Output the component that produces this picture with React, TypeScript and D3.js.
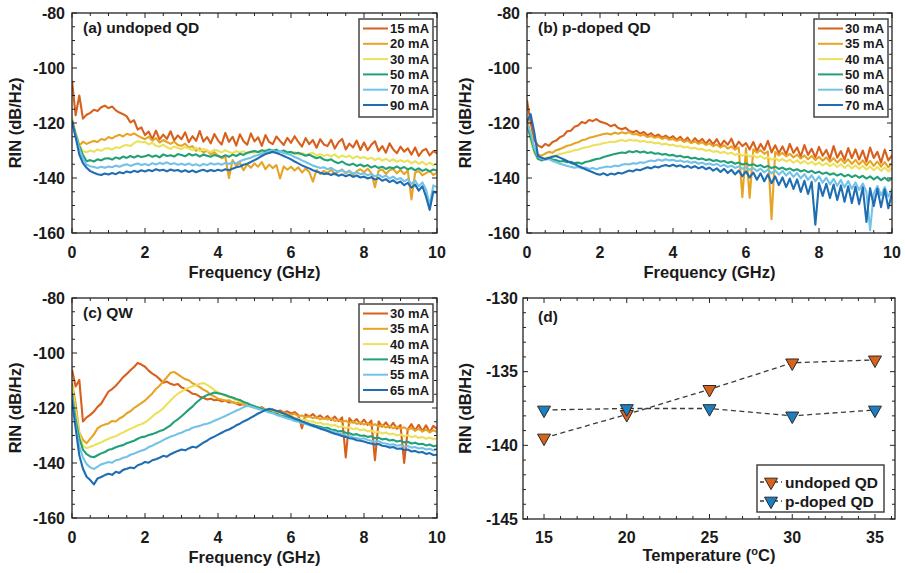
import React from 'react';
import * as d3 from 'd3';

// Frequency sampling grid (GHz) shared by all spectra
const FREQ: number[] = d3.range(0, 101).map((i) => i / 10);

// ---------- Panel (a) undoped QD ----------
const A_LABELS = ['15 mA', '20 mA', '30 mA', '50 mA', '70 mA', '90 mA'];
const A_15 = [
  -104.6, -117.2, -110.0, -118.4, -117.0, -116.3, -115.2, -115.6, -114.3, -113.7,
  -114.6, -114.0, -115.4, -116.2, -116.8, -117.6, -119.8, -119.0, -122.4, -121.6,
  -124.4, -123.1, -125.9, -122.8, -126.0, -124.2, -125.8, -123.0, -126.3, -124.5,
  -125.9, -123.4, -127.0, -124.8, -126.5, -122.9, -126.8, -125.1, -127.4, -124.0,
  -126.3, -127.8, -123.6, -126.9, -125.0, -128.2, -124.1, -126.6, -127.9, -123.8,
  -126.7, -125.2, -128.3, -124.4, -126.9, -127.7, -124.9, -126.5, -128.0, -125.4,
  -127.2, -124.8, -126.9, -128.6, -125.5, -127.7, -126.2, -129.0, -125.9, -127.8,
  -128.4, -126.1, -129.3, -127.0, -125.8, -129.6, -127.5, -128.9, -126.4, -129.8,
  -127.1, -129.9, -127.9, -126.6, -130.2, -128.4, -130.8, -127.4, -129.6, -131.0,
  -128.6, -130.4, -129.2, -131.5, -128.9, -132.0, -130.1, -129.4, -131.8, -130.2,
  -131.0,
];
const A_20 = [
  -119.8, -124.5, -128.3, -126.8, -127.6, -127.0, -126.5, -126.9, -125.8, -126.2,
  -125.1, -125.6, -124.8, -124.3, -124.9, -123.9, -124.4, -123.8, -124.6, -125.3,
  -125.9, -125.0, -126.4, -125.5, -127.1, -126.2, -126.9, -127.6, -126.8, -128.0,
  -128.3, -127.5, -129.0, -128.4, -130.1, -129.2, -130.8, -130.0, -131.4, -130.6,
  -131.9, -132.8, -132.2, -140.0, -133.5, -135.6, -134.4, -137.2, -135.0, -136.3,
  -134.7, -135.9, -134.2, -136.8, -135.1, -136.4, -135.3, -140.2, -135.8, -137.0,
  -135.9, -137.3, -136.1, -138.0, -136.6, -137.8, -141.3, -137.1, -138.5, -137.4,
  -138.2, -137.0, -138.8, -137.6, -136.9, -138.4, -137.3, -139.0, -137.6, -136.8,
  -137.9, -136.6, -138.2, -143.4, -137.4, -136.9, -138.5, -137.2, -136.7, -138.3,
  -137.0, -138.6, -137.3, -147.8, -138.1, -137.5, -139.0, -138.2, -137.4, -138.9,
  -138.0,
];
const A_30 = [
  -118.0, -123.4, -127.9, -130.2, -130.6, -130.0, -130.5, -129.6, -130.1, -129.3,
  -129.2, -129.7, -128.8, -129.1, -128.3, -128.0, -128.4, -127.3, -126.6, -127.0,
  -126.9, -127.8, -127.2, -128.3, -128.6, -127.9, -128.8, -129.4, -128.5, -129.1,
  -129.5, -128.7, -129.3, -129.8, -129.0, -130.2, -129.4, -130.0, -130.6, -129.7,
  -130.1, -130.7, -129.9, -130.5, -131.0, -130.2, -130.8, -130.3, -131.2, -130.5,
  -130.8, -130.2, -130.9, -129.8, -130.4, -129.9, -130.6, -130.1, -131.0, -130.5,
  -131.1, -130.6, -131.5, -130.9, -131.7, -131.2, -130.8, -131.9, -131.3, -132.0,
  -131.5, -132.2, -131.4, -132.6, -131.8, -132.4, -131.9, -132.9, -132.1, -132.7,
  -132.4, -133.1, -132.6, -133.5, -132.8, -133.7, -133.0, -133.9, -133.2, -134.1,
  -133.5, -134.2, -133.6, -134.7, -133.9, -134.8, -134.1, -135.2, -134.4, -135.3,
  -134.8,
];
const A_50 = [
  -119.0, -124.1, -128.4, -131.6, -133.9, -133.5, -134.0, -133.2, -133.6, -132.9,
  -132.8, -133.3, -132.5, -133.0, -132.2, -132.7, -132.0, -132.6, -131.9, -132.4,
  -132.1, -131.6, -132.3, -131.8, -132.5, -131.4, -132.0, -131.7, -132.2, -131.3,
  -131.6, -132.1, -131.2, -131.8, -131.4, -132.2, -131.5, -131.9, -132.3, -131.6,
  -132.0, -132.4, -131.7, -132.3, -131.5, -132.0, -131.2, -131.6, -130.8, -130.5,
  -130.2, -130.6, -129.9, -130.3, -129.6, -130.1, -129.7, -130.4, -130.0, -130.7,
  -130.5, -131.1, -130.8, -131.4, -131.9, -131.5, -132.2, -132.8, -132.4, -133.3,
  -133.6, -133.2, -134.1, -134.6, -134.0, -134.9, -135.3, -134.8, -135.6, -135.1,
  -135.8, -135.3, -136.2, -135.6, -136.4, -135.9, -136.7, -136.1, -136.5, -135.8,
  -136.6, -136.0, -136.9, -136.3, -137.2, -136.5, -137.4, -136.8, -137.6, -136.9,
  -137.3,
];
const A_70 = [
  -119.2, -124.6, -129.3, -133.1, -135.2, -135.7, -136.0, -136.4, -135.9, -136.3,
  -135.8, -136.1, -135.5, -135.9, -135.4, -135.0, -135.6, -135.1, -134.7, -135.3,
  -134.9, -135.4, -134.6, -135.1, -134.5, -134.9, -134.3, -135.0, -134.6, -135.2,
  -134.8, -135.3, -134.7, -135.4, -135.0, -135.6, -134.9, -135.3, -134.6, -135.1,
  -134.7, -135.2, -134.5, -134.9, -134.3, -134.7, -133.9, -133.4, -133.0, -132.6,
  -132.0, -131.6, -131.1, -130.8, -130.3, -130.0, -130.5, -130.2, -130.9, -131.3,
  -131.6, -132.4, -132.9, -133.6, -134.2, -134.8, -135.5, -135.9, -136.4, -136.1,
  -136.8, -136.3, -137.2, -137.7, -137.1, -138.0, -137.5, -138.4, -137.9, -138.6,
  -138.3, -139.0, -138.5, -139.4, -138.8, -139.7, -139.1, -140.2, -139.5, -140.6,
  -140.0, -141.2, -140.4, -142.1, -140.9, -143.0, -141.6, -144.2, -149.8, -142.7,
  -143.4,
];
const A_90 = [
  -119.4, -125.2, -131.5, -134.6, -136.3, -137.5, -138.1, -138.6, -138.9, -138.4,
  -138.7, -138.2, -138.6, -137.9, -138.3, -137.6, -138.0, -137.4, -137.8, -137.2,
  -137.6, -137.1, -137.5, -136.8, -137.3, -137.0, -137.6, -136.9, -137.4, -137.1,
  -137.7, -137.2, -137.8, -137.3, -137.9, -137.4, -137.0, -137.6, -137.1, -137.5,
  -137.0, -137.4, -136.8, -137.2, -136.6, -136.1, -135.8, -135.2, -134.8, -134.2,
  -133.5, -132.8, -132.0, -131.3, -130.9, -130.5, -130.9, -131.4, -132.0, -132.6,
  -133.2, -134.0, -134.7, -135.4, -136.0, -136.5, -137.2, -137.6, -138.1, -138.5,
  -138.4, -138.9, -138.3, -139.2, -138.7, -139.4, -138.8, -139.6, -139.1, -139.8,
  -139.5, -140.2, -139.7, -140.6, -140.0, -141.0, -140.4, -141.5, -140.8, -141.9,
  -141.3, -142.6, -141.8, -143.5, -142.4, -144.6, -143.0, -146.8, -151.6, -144.9,
  -145.5,
];

// ---------- Panel (b) p-doped QD ----------
const B_LABELS = ['30 mA', '35 mA', '40 mA', '50 mA', '60 mA', '70 mA'];
const B_30 = [
  -111.7, -119.8, -126.2, -128.1, -128.9, -127.6, -128.3, -126.9, -126.4, -125.2,
  -124.6, -123.0, -122.8, -121.4, -120.9, -119.6, -120.1, -118.9, -119.3, -118.6,
  -119.5, -119.9, -120.4, -121.2, -120.6, -121.8, -122.3, -121.7, -122.9, -123.4,
  -122.8, -123.9, -123.3, -124.5, -123.7, -124.9, -124.2, -125.3, -124.6, -125.6,
  -124.8, -126.1, -125.0, -126.6, -125.3, -127.2, -125.5, -126.9, -125.8, -127.5,
  -126.0, -127.8, -125.9, -128.3, -126.4, -127.9, -125.7, -129.0, -126.8, -128.4,
  -127.3, -129.6, -126.9, -130.2, -127.6, -129.8, -126.5, -130.7, -128.1, -131.0,
  -128.5, -131.4, -127.6, -130.9, -128.9, -132.2, -128.0, -131.6, -129.4, -132.5,
  -128.7, -131.9, -129.8, -133.0, -128.4, -132.6, -130.2, -133.4, -129.1, -132.8,
  -129.6, -133.3, -130.0, -134.1, -128.9, -132.7, -130.5, -134.4, -129.7, -133.6,
  -131.8,
];
const B_35 = [
  -118.3, -124.4, -129.2, -131.5, -131.9, -131.1, -130.5, -130.8, -129.9, -129.5,
  -128.9, -128.3, -128.0, -127.4, -127.0, -126.3, -126.0, -125.4, -125.1, -124.7,
  -124.4, -124.0, -123.8, -124.2, -123.5, -123.9, -123.4, -123.8, -123.3, -124.1,
  -124.0, -124.6, -124.3, -125.1, -124.7, -125.4, -125.0, -125.8, -125.3, -126.1,
  -125.8, -126.5, -126.0, -126.9, -126.4, -127.3, -126.7, -127.6, -127.0, -128.0,
  -127.4, -128.4, -127.8, -128.9, -128.1, -129.3, -128.5, -129.7, -128.9, -147.0,
  -129.2, -147.2, -129.6, -130.8, -129.9, -131.2, -130.3, -155.0, -130.6, -131.8,
  -130.9, -132.1, -131.2, -132.5, -131.5, -132.9, -131.8, -133.2, -132.0, -133.5,
  -132.3, -133.7, -132.5, -134.1, -132.8, -134.4, -133.0, -134.6, -133.2, -134.9,
  -133.4, -135.1, -133.6, -135.4, -133.8, -135.6, -134.0, -135.9, -134.2, -136.1,
  -134.6,
];
const B_40 = [
  -120.2, -126.3, -131.0, -133.2, -133.6, -132.8, -132.4, -132.0, -131.7, -131.3,
  -131.0, -130.6, -130.4, -129.9, -129.7, -129.2, -128.9, -128.6, -128.2, -127.9,
  -127.7, -127.3, -127.1, -126.8, -126.9, -126.5, -126.2, -126.6, -126.1, -126.4,
  -126.3, -126.8, -126.5, -127.0, -126.9, -127.4, -127.2, -127.8, -127.5, -128.1,
  -127.9, -128.5, -128.3, -128.9, -128.6, -129.3, -129.0, -129.6, -129.4, -130.1,
  -129.8, -130.5, -130.2, -130.9, -130.5, -131.2, -130.8, -131.6, -131.1, -131.9,
  -131.4, -132.2, -131.7, -132.6, -132.0, -133.0, -132.4, -133.3, -132.8, -133.7,
  -133.1, -134.0, -133.3, -134.4, -133.6, -134.7, -133.8, -134.9, -134.1, -135.2,
  -134.3, -135.4, -134.6, -135.7, -134.8, -136.0, -135.0, -136.3, -135.2, -136.5,
  -135.4, -136.7, -135.6, -136.9, -135.8, -137.2, -136.0, -137.4, -136.2, -137.6,
  -136.4,
];
const B_50 = [
  -121.0, -125.2, -130.1, -133.0, -133.6, -133.1, -132.8, -133.3, -133.5, -134.0,
  -133.8, -134.3, -134.1, -134.6, -134.4, -134.8, -134.2, -133.9, -133.5, -133.1,
  -132.9, -132.4, -132.0, -131.6, -131.3, -131.0, -130.7, -130.9, -130.3, -130.6,
  -130.2, -130.7, -130.4, -130.9, -130.6, -131.2, -131.0, -131.5, -131.3, -131.8,
  -131.6, -132.2, -131.9, -132.5, -132.3, -132.9, -132.6, -133.2, -132.9, -133.5,
  -133.2, -133.8, -133.5, -134.1, -133.8, -134.5, -134.1, -134.8, -134.4, -135.1,
  -134.7, -135.4, -135.0, -135.7, -135.3, -136.1, -135.6, -136.4, -135.9, -136.7,
  -136.2, -137.0, -136.5, -137.3, -136.8, -137.6, -137.1, -137.9, -137.4, -138.2,
  -137.7, -138.5, -138.0, -138.8, -138.3, -139.1, -138.5, -139.4, -138.8, -139.7,
  -139.0, -139.9, -139.2, -140.2, -139.4, -140.5, -139.6, -140.8, -139.9, -141.0,
  -140.2,
];
const B_60 = [
  -120.1, -123.4, -129.0, -132.2, -133.0, -133.4, -133.1, -133.8, -134.3, -134.8,
  -135.2, -135.6, -135.9, -136.3, -136.0, -136.5, -136.2, -136.7, -136.4, -136.8,
  -136.4, -136.1, -135.8, -136.0, -135.5, -135.7, -135.2, -134.9, -135.1, -134.6,
  -134.8, -134.3, -134.5, -134.0, -133.6, -133.9, -133.3, -133.7, -133.2, -133.6,
  -133.4, -133.9, -133.6, -134.2, -133.9, -134.5, -134.1, -134.8, -134.4, -135.1,
  -134.7, -135.3, -134.9, -135.7, -135.2, -136.0, -135.5, -136.3, -135.8, -136.6,
  -136.2, -137.0, -136.4, -137.5, -136.6, -138.0, -136.9, -138.3, -137.2, -138.8,
  -137.4, -139.1, -137.8, -139.6, -138.2, -140.1, -138.6, -140.7, -139.0, -141.2,
  -139.4, -141.7, -139.9, -142.3, -140.3, -142.8, -140.7, -143.4, -141.1, -143.9,
  -141.6, -144.4, -142.0, -145.1, -159.0, -145.6, -142.9, -146.3, -143.3, -146.8,
  -144.0,
];
const B_70 = [
  -119.5, -116.8, -123.4, -132.0, -132.6, -133.1, -132.7, -132.3, -132.0, -132.6,
  -133.2, -133.8, -134.5, -134.9, -135.6, -136.2, -136.8, -137.4, -137.9, -138.5,
  -138.8, -138.3, -139.0, -138.4, -138.7, -138.1, -138.4, -137.8, -137.3, -137.6,
  -136.9, -137.2, -136.6, -136.1, -136.5, -135.8, -136.2, -135.6, -135.3, -135.7,
  -135.2, -135.8, -135.4, -136.1, -135.6, -136.3, -135.7, -136.5, -135.9, -136.8,
  -136.2, -137.3, -136.5, -137.8, -136.7, -138.2, -137.0, -138.7, -137.3, -139.3,
  -137.6, -139.8, -138.0, -140.6, -138.3, -141.2, -138.7, -141.9, -139.4, -142.6,
  -139.8, -143.3, -140.2, -144.0, -140.5, -145.1, -141.0, -145.8, -141.4, -157.0,
  -141.8, -146.5, -142.1, -147.3, -142.4, -148.0, -142.7, -148.6, -143.0, -149.1,
  -143.2, -149.5, -143.4, -156.0, -143.7, -150.2, -143.9, -150.6, -144.1, -151.0,
  -145.5,
];

// ---------- Panel (c) QW ----------
const C_LABELS = ['30 mA', '35 mA', '40 mA', '45 mA', '55 mA', '65 mA'];
const C_30 = [
  -106.0, -112.2, -109.8, -124.9, -123.4, -122.5, -121.3, -119.6, -118.4, -116.2,
  -114.0, -113.1, -111.9, -110.4, -108.8, -107.6, -106.3, -105.1, -103.6, -104.2,
  -105.0, -106.4, -107.5, -108.3, -109.5, -110.8, -110.4, -111.2, -111.6, -111.3,
  -112.5, -113.1, -113.9, -114.8, -115.0, -115.9, -116.3, -116.9, -116.6, -117.2,
  -117.0, -117.6, -117.3, -118.0, -117.8, -118.4, -118.9, -118.5, -119.3, -119.0,
  -119.8, -120.2, -119.7, -120.6, -120.9, -120.5, -121.4, -120.9, -121.7, -121.2,
  -122.0, -121.5, -122.6, -127.4, -122.3, -123.1, -122.2, -123.6, -122.7, -123.9,
  -122.9, -124.4, -123.1, -124.8, -123.4, -138.0, -123.7, -125.3, -124.0, -125.8,
  -124.2, -126.1, -124.6, -139.0, -124.9, -126.8, -125.2, -127.1, -125.4, -127.5,
  -126.2, -140.0, -127.8, -125.9, -128.2, -126.1, -128.5, -126.3, -128.8, -126.5,
  -127.6,
];
const C_35 = [
  -110.9, -118.3, -128.9, -131.6, -132.8, -131.2, -129.6, -127.4, -126.5, -126.0,
  -125.6, -124.7, -124.9, -123.8, -123.1, -121.9, -121.2, -120.0, -119.1, -118.2,
  -117.3, -116.0, -114.7, -113.1, -111.9, -110.3, -108.8, -107.2, -106.9, -107.8,
  -108.7, -109.5, -109.9, -111.0, -111.6, -112.4, -113.3, -114.0, -115.1, -115.8,
  -116.6, -116.9, -117.4, -117.2, -117.9, -118.3, -118.0, -118.7, -119.2, -119.0,
  -119.6, -120.2, -120.0, -120.7, -121.1, -120.8, -121.6, -121.9, -121.5, -122.3,
  -122.5, -122.1, -123.0, -122.7, -123.4, -123.0, -123.7, -123.3, -124.1, -123.6,
  -124.2, -123.8, -124.7, -124.3, -125.1, -124.6, -125.5, -124.9, -125.8, -125.3,
  -126.0, -125.5, -126.4, -125.9, -126.8, -126.2, -127.1, -126.5, -127.4, -126.8,
  -127.5, -127.0, -127.9, -127.3, -128.2, -127.6, -128.5, -127.9, -128.8, -128.1,
  -128.7,
];
const C_40 = [
  -112.0, -121.2, -129.4, -133.8, -134.6, -134.1, -133.6, -133.0, -132.5, -131.8,
  -131.2, -130.6, -130.3, -129.5, -128.9, -128.2, -127.6, -127.0, -126.3, -125.9,
  -125.2, -124.3, -123.1, -122.0, -121.2, -120.1, -118.6, -117.3, -115.9, -114.8,
  -114.0, -113.2, -112.6, -112.1, -111.7, -111.2, -110.9, -111.6, -112.4, -113.5,
  -114.3, -114.9, -115.6, -116.0, -116.5, -117.2, -117.6, -118.0, -118.5, -119.0,
  -119.4, -119.9, -120.3, -120.8, -121.2, -121.6, -122.0, -122.3, -122.8, -123.1,
  -123.0, -123.6, -123.9, -124.5, -124.2, -125.0, -124.8, -125.5, -125.3, -126.0,
  -125.8, -126.4, -126.2, -126.9, -126.6, -127.3, -127.0, -127.7, -127.4, -128.1,
  -127.8, -128.5, -128.2, -128.9, -128.6, -129.3, -128.9, -129.6, -129.3, -130.0,
  -129.6, -130.3, -129.9, -130.6, -130.2, -130.9, -130.5, -131.2, -130.7, -131.4,
  -131.0,
];
const C_45 = [
  -114.5, -124.2, -131.0, -135.1, -136.8, -137.6, -137.9, -137.2, -136.5, -136.0,
  -135.2, -134.9, -134.3, -133.8, -133.5, -132.8, -132.4, -131.9, -131.2, -130.6,
  -130.4, -129.8, -129.5, -129.0, -128.4, -128.0, -127.1, -126.3, -125.0, -124.1,
  -123.0, -121.8, -120.6, -119.5, -118.1, -117.0, -116.0, -115.3, -114.9, -114.4,
  -114.6, -114.9, -115.3, -115.8, -116.2, -116.7, -117.1, -117.8, -118.3, -118.9,
  -119.4, -119.8, -120.3, -120.9, -121.2, -121.8, -122.1, -122.7, -123.0, -123.4,
  -123.7, -124.2, -124.6, -125.1, -125.4, -125.9, -126.1, -126.6, -126.8, -127.3,
  -127.2, -127.8, -128.0, -128.5, -128.4, -129.0, -129.2, -129.7, -129.5, -130.1,
  -130.0, -130.5, -130.3, -131.0, -130.8, -131.4, -131.2, -131.8, -131.6, -132.2,
  -131.9, -132.5, -132.3, -132.9, -132.6, -133.2, -133.0, -133.6, -133.3, -133.9,
  -133.6,
];
const C_55 = [
  -115.8, -126.3, -133.9, -138.0, -140.4, -141.6, -142.2, -141.3, -140.5, -140.1,
  -139.6, -139.9, -139.0, -138.7, -138.1, -137.8, -137.0, -136.6, -136.0, -135.5,
  -135.1, -134.2, -133.7, -133.0, -132.4, -131.7, -131.0, -130.4, -130.0, -129.4,
  -129.0, -128.3, -127.9, -127.2, -126.8, -126.5, -126.0, -125.7, -125.3, -124.6,
  -124.1, -123.5, -122.9, -122.3, -121.6, -121.0, -120.4, -119.7, -119.2, -119.5,
  -119.9, -120.4, -120.7, -121.1, -121.6, -121.9, -122.5, -122.9, -123.4, -123.8,
  -124.2, -124.7, -125.0, -125.5, -125.8, -126.3, -126.6, -127.0, -127.4, -127.7,
  -127.9, -128.5, -128.8, -129.3, -129.5, -130.0, -130.2, -130.7, -130.9, -131.3,
  -131.0, -131.6, -131.9, -132.3, -132.1, -132.7, -132.9, -133.4, -133.2, -133.7,
  -133.5, -134.0, -133.8, -134.4, -134.2, -134.7, -134.5, -135.1, -134.8, -135.4,
  -135.1,
];
const C_65 = [
  -117.0, -127.4, -137.2, -142.1, -145.0, -146.2, -147.8, -145.6, -145.1, -144.4,
  -143.9, -144.3, -143.2, -143.6, -142.5, -142.1, -141.6, -141.9, -140.8, -140.4,
  -139.6, -139.9, -139.0, -138.6, -138.1, -137.4, -137.7, -136.8, -136.2, -135.6,
  -135.1, -135.4, -134.7, -134.1, -134.4, -133.5, -132.6, -131.9, -131.0, -130.4,
  -129.7, -129.0, -128.3, -127.8, -127.1, -126.3, -125.7, -124.9, -124.3, -123.5,
  -122.8, -122.0, -121.4, -120.7, -120.3, -120.6, -121.0, -121.5, -122.0, -122.6,
  -123.2, -123.8, -124.3, -124.9, -125.4, -125.9, -126.5, -126.9, -127.5, -127.9,
  -128.4, -128.9, -129.4, -129.7, -130.2, -130.5, -131.0, -131.2, -131.7, -131.9,
  -132.2, -132.6, -132.9, -133.3, -133.1, -133.7, -133.9, -134.4, -134.2, -134.8,
  -134.7, -135.3, -135.1, -135.8, -135.6, -136.2, -136.0, -136.7, -136.4, -137.1,
  -137.0,
];

// ---------- Panel (d) RIN vs temperature ----------
const TEMPS = [15, 20, 25, 30, 35];
const D_UNDOPED = [-139.5, -137.9, -136.2, -134.4, -134.2];
const D_PDOPED = [-137.6, -137.5, -137.5, -138.0, -137.6];
const D_LABELS = ['undoped QD', 'p-doped QD'];

// ticks
const FREQ_TICKS = [0, 2, 4, 6, 8, 10];
const RIN_TICKS = [-80, -100, -120, -140, -160];
const TEMP_TICKS = [15, 20, 25, 30, 35];
const D_RIN_TICKS = [-130, -135, -140, -145];

const COLORS = ['#D8601C', '#E7A424', '#ECE15C', '#22A077', '#74C2E8', '#1F6DB3'];
const D_COLORS = ['#D8621C', '#1E7EC2'];

const FONT = '"Liberation Sans", Arial, Helvetica, sans-serif';

type Box = { x0: number; x1: number; y0: number; y1: number };

function Frame({ box, xScale, yScale, xMinor, yMinor, xMajor, yMajor }: any) {
  const { x0, x1, y0, y1 } = box;
  const items: React.ReactNode[] = [];
  const tick = (key: string, xa: number, ya: number, xb: number, yb: number) =>
    items.push(<line key={key} x1={xa} y1={ya} x2={xb} y2={yb} stroke="#222" strokeWidth={1} />);
  xMinor.forEach((v: number, i: number) => {
    const x = xScale(v);
    const len = xMajor.includes(v) ? 5 : 3;
    tick('xb' + i, x, y1, x, y1 - len);
    tick('xt' + i, x, y0, x, y0 + len);
  });
  yMinor.forEach((v: number, i: number) => {
    const y = yScale(v);
    const len = yMajor.includes(v) ? 5 : 3;
    tick('yl' + i, x0, y, x0 + len, y);
    tick('yr' + i, x1, y, x1 - len, y);
  });
  return (
    <g>
      {items}
      <rect x={x0} y={y0} width={x1 - x0} height={y1 - y0} fill="none" stroke="#222" strokeWidth={1.3} />
    </g>
  );
}

function AxisLabels({ box, xScale, yScale, xTicks, yTicks, xTitle, yTitleX }: any) {
  const { x0, x1, y0, y1 } = box;
  return (
    <g fontFamily={FONT} fontWeight="bold" fill="#1a1a1a">
      {xTicks.map((v: number) => (
        <text key={'xl' + v} x={xScale(v)} y={y1 + 24.5} fontSize={16} textAnchor="middle">
          {v}
        </text>
      ))}
      {yTicks.map((v: number) => (
        <text key={'yl' + v} x={x0 - 7} y={yScale(v) + 5.5} fontSize={16} textAnchor="end">
          {v}
        </text>
      ))}
      <text x={(x0 + x1) / 2} y={y1 + 45} fontSize={16.5} textAnchor="middle">
        {xTitle}
      </text>
      <text transform={`translate(${yTitleX},${(y0 + y1) / 2}) rotate(-90)`} fontSize={16.5} textAnchor="middle">
        RIN (dB/Hz)
      </text>
    </g>
  );
}

function SpectrumPanel({ box, title, labels, series, yTitleX }: { box: Box; title: string; labels: string[]; series: number[][]; yTitleX: number }) {
  const xScale = d3.scaleLinear().domain([0, 10]).range([box.x0, box.x1]);
  const yScale = d3.scaleLinear().domain([-160, -80]).range([box.y1, box.y0]);
  const line = d3
    .line<number>()
    .x((_, i) => xScale(FREQ[i]))
    .y((d) => yScale(Math.max(-160, d)));
  const clipId = 'clip' + title.replace(/[^a-z]/gi, '');
  const lgX = box.x1 - 78;
  const lgY = box.y0 + 6;
  return (
    <g>
      <defs>
        <clipPath id={clipId}>
          <rect x={box.x0} y={box.y0} width={box.x1 - box.x0} height={box.y1 - box.y0} />
        </clipPath>
      </defs>
      <g clipPath={`url(#${clipId})`}>
        {series.map((s, i) => (
          <path key={i} d={line(s) || ''} fill="none" stroke={COLORS[i]} strokeWidth={2.1} strokeLinejoin="round" />
        ))}
      </g>
      <Frame
        box={box}
        xScale={xScale}
        yScale={yScale}
        xMinor={d3.range(0, 10.01, 0.5).map((v) => +v.toFixed(1))}
        yMinor={d3.range(-160, -79, 5)}
        xMajor={FREQ_TICKS}
        yMajor={RIN_TICKS}
      />
      <AxisLabels box={box} xScale={xScale} yScale={yScale} xTicks={FREQ_TICKS} yTicks={RIN_TICKS} xTitle="Frequency (GHz)" yTitleX={yTitleX} />
      <text x={box.x0 + 11} y={box.y0 + 20} fontFamily={FONT} fontWeight="bold" fontSize={15.5} fill="#1a1a1a">
        {title}
      </text>
      <g>
        <rect x={lgX} y={lgY} width={74} height={98} fill="#fff" stroke="#444" strokeWidth={1.5} />
        {labels.map((lab, i) => {
          const y = lgY + 9.5 + i * 15.3;
          return (
            <g key={lab}>
              <line x1={lgX + 4} x2={lgX + 29} y1={y} y2={y} stroke={COLORS[i]} strokeWidth={2} />
              <text x={lgX + 31} y={y + 4.5} fontFamily={FONT} fontWeight="bold" fontSize={13} fill="#1a1a1a">
                {lab}
              </text>
            </g>
          );
        })}
      </g>
    </g>
  );
}

function TriangleDown({ x, y, fill }: { x: number; y: number; fill: string }) {
  const w = 13;
  const h = 11.5;
  const p = d3.path();
  p.moveTo(x - w / 2, y - h / 3);
  p.lineTo(x + w / 2, y - h / 3);
  p.lineTo(x, y + (2 * h) / 3);
  p.closePath();
  return <path d={p.toString()} fill={fill} stroke="#2a2a2a" strokeWidth={1} />;
}

function TempPanel({ box }: { box: Box }) {
  const xScale = d3.scaleLinear().domain([13.73, 36.21]).range([box.x0, box.x1]);
  const yScale = d3.scaleLinear().domain([-145, -130]).range([box.y1, box.y0]);
  const line = d3
    .line<number>()
    .x((_, i) => xScale(TEMPS[i]))
    .y((d) => yScale(d));
  const sets = [D_UNDOPED, D_PDOPED];
  const lgX = 757;
  const lgY = 465;
  return (
    <g>
      {sets.map((s, k) => (
        <path key={'l' + k} d={line(s) || ''} fill="none" stroke="#3a3a3a" strokeWidth={1.3} strokeDasharray="5 3.5" />
      ))}
      {sets.map((s, k) =>
        s.map((v, i) => <TriangleDown key={'m' + k + i} x={xScale(TEMPS[i])} y={yScale(v)} fill={D_COLORS[k]} />)
      )}
      <Frame
        box={box}
        xScale={xScale}
        yScale={yScale}
        xMinor={d3.range(14, 37, 1)}
        yMinor={d3.range(-145, -129, 1)}
        xMajor={TEMP_TICKS}
        yMajor={D_RIN_TICKS}
      />
      <g fontFamily={FONT} fontWeight="bold" fill="#1a1a1a">
        {TEMP_TICKS.map((v) => (
          <text key={'tx' + v} x={xScale(v)} y={box.y1 + 24} fontSize={16} textAnchor="middle">
            {v}
          </text>
        ))}
        {D_RIN_TICKS.map((v) => (
          <text key={'ty' + v} x={box.x0 - 5} y={yScale(v) + 5.5} fontSize={16} textAnchor="end">
            {v}
          </text>
        ))}
        <text x={(box.x0 + box.x1) / 2} y={box.y1 + 42} fontSize={16.5} textAnchor="middle">
          Temperature (<tspan fontSize={11} dy={-6}>o</tspan>
          <tspan dy={6}>C)</tspan>
        </text>
        <text transform={`translate(471,${(box.y0 + box.y1) / 2}) rotate(-90)`} fontSize={16.5} textAnchor="middle">
          RIN (dB/Hz)
        </text>
        <text x={box.x0 + 15} y={box.y0 + 24} fontSize={15.5}>
          (d)
        </text>
      </g>
      <g>
        <rect x={lgX} y={lgY} width={127} height={47} fill="#fff" stroke="#444" strokeWidth={1.5} />
        {D_LABELS.map((lab, i) => {
          const y = lgY + 17 + i * 19;
          return (
            <g key={lab}>
              <line x1={lgX + 3} x2={lgX + 25} y1={y} y2={y} stroke="#3a3a3a" strokeWidth={1.3} strokeDasharray="4 3" />
              <TriangleDown x={lgX + 14} y={y} fill={D_COLORS[i]} />
              <text x={lgX + 28} y={y + 5.5} fontFamily={FONT} fontWeight="bold" fontSize={15.5} fill="#1a1a1a">
                {lab}
              </text>
            </g>
          );
        })}
      </g>
    </g>
  );
}

export default function App() {
  return (
    <svg
      width={905}
      height={573}
      viewBox="0 0 905 573"
      style={{ position: 'absolute', left: 0, top: 0, background: '#fff' }}
    >
      <rect x={0} y={0} width={905} height={573} fill="#fff" />
      <SpectrumPanel
        box={{ x0: 72, x1: 437, y0: 13, y1: 233 }}
        title="(a) undoped QD"
        labels={A_LABELS}
        series={[A_15, A_20, A_30, A_50, A_70, A_90]}
        yTitleX={21}
      />
      <SpectrumPanel
        box={{ x0: 527, x1: 892, y0: 13, y1: 233 }}
        title="(b) p-doped QD"
        labels={B_LABELS}
        series={[B_30, B_35, B_40, B_50, B_60, B_70]}
        yTitleX={471}
      />
      <SpectrumPanel
        box={{ x0: 72, x1: 437, y0: 298, y1: 518 }}
        title="(c) QW"
        labels={C_LABELS}
        series={[C_30, C_35, C_40, C_45, C_55, C_65]}
        yTitleX={21}
      />
      <TempPanel box={{ x0: 523, x1: 895, y0: 298, y1: 519 }} />
    </svg>
  );
}
